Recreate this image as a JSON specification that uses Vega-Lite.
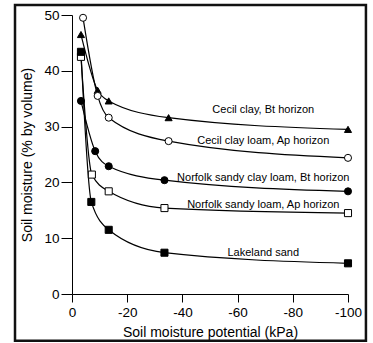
{
  "$schema": "https://vega.github.io/schema/vega-lite/v6.json",
  "width": 276,
  "height": 279,
  "autosize": "none",
  "padding": {"left": 72, "top": 15, "right": 25, "bottom": 49},
  "background": "white",
  "config": {
    "view": {"stroke": null},
    "font": "Liberation Sans",
    "axis": {"labelFont": "Liberation Sans", "titleFont": "Liberation Sans", "labelColor": "black", "titleColor": "black", "domainColor": "black", "tickColor": "black", "titleFontWeight": "normal", "labelFontSize": 13.5, "titleFontSize": 14, "grid": false, "domainWidth": 1, "tickWidth": 1}
  },
  "datasets": {
    "soil": [
      {"soil": "Cecil clay, Bt horizon", "kPa": -3.25, "moisture": 46.5},
      {"soil": "Cecil clay, Bt horizon", "kPa": -9.3, "moisture": 36.5},
      {"soil": "Cecil clay, Bt horizon", "kPa": -13.3, "moisture": 34.6},
      {"soil": "Cecil clay, Bt horizon", "kPa": -35, "moisture": 31.6},
      {"soil": "Cecil clay, Bt horizon", "kPa": -100, "moisture": 29.5},
      {"soil": "Cecil clay loam, Ap horizon", "kPa": -4, "moisture": 49.5},
      {"soil": "Cecil clay loam, Ap horizon", "kPa": -9.3, "moisture": 35.5},
      {"soil": "Cecil clay loam, Ap horizon", "kPa": -13.3, "moisture": 31.6},
      {"soil": "Cecil clay loam, Ap horizon", "kPa": -35, "moisture": 27.4},
      {"soil": "Cecil clay loam, Ap horizon", "kPa": -100, "moisture": 24.4},
      {"soil": "Norfolk sandy clay loam, Bt horizon", "kPa": -3.25, "moisture": 34.6},
      {"soil": "Norfolk sandy clay loam, Bt horizon", "kPa": -8.4, "moisture": 25.6},
      {"soil": "Norfolk sandy clay loam, Bt horizon", "kPa": -13.3, "moisture": 22.9},
      {"soil": "Norfolk sandy clay loam, Bt horizon", "kPa": -33.5, "moisture": 20.4},
      {"soil": "Norfolk sandy clay loam, Bt horizon", "kPa": -100, "moisture": 18.4},
      {"soil": "Norfolk sandy loam, Ap horizon", "kPa": -3.25, "moisture": 42.5},
      {"soil": "Norfolk sandy loam, Ap horizon", "kPa": -7.2, "moisture": 21.4},
      {"soil": "Norfolk sandy loam, Ap horizon", "kPa": -13.3, "moisture": 18.4},
      {"soil": "Norfolk sandy loam, Ap horizon", "kPa": -33.5, "moisture": 15.4},
      {"soil": "Norfolk sandy loam, Ap horizon", "kPa": -100, "moisture": 14.5},
      {"soil": "Lakeland sand", "kPa": -3.25, "moisture": 43.4},
      {"soil": "Lakeland sand", "kPa": -7, "moisture": 16.5},
      {"soil": "Lakeland sand", "kPa": -13.3, "moisture": 11.5},
      {"soil": "Lakeland sand", "kPa": -33.5, "moisture": 7.4},
      {"soil": "Lakeland sand", "kPa": -100, "moisture": 5.5}
    ],
    "labels": [
      {"soil": "Cecil clay, Bt horizon", "kPa": -69.3, "moisture": 32.9},
      {"soil": "Cecil clay loam, Ap horizon", "kPa": -69.3, "moisture": 27.4},
      {"soil": "Norfolk sandy clay loam, Bt horizon", "kPa": -69.3, "moisture": 20.8},
      {"soil": "Norfolk sandy loam, Ap horizon", "kPa": -69.3, "moisture": 16.0},
      {"soil": "Lakeland sand", "kPa": -69.3, "moisture": 7.4}
    ]
  },
  "layer": [
    {
      "data": {"name": "soil"},
      "mark": {"type": "line", "interpolate": "monotone", "color": "black", "strokeWidth": 1.2},
      "encoding": {
        "x": {"field": "kPa", "type": "quantitative", "title": "Soil moisture potential (kPa)", "scale": {"domain": [0, -100], "nice": false, "zero": false},
          "axis": {"values": [0, -10, -20, -30, -40, -50, -60, -70, -80, -90, -100], "labelExpr": "datum.value % 20 === 0 ? (datum.value === 0 ? '0' : '-' + abs(datum.value)) : ''", "tickSize": {"condition": {"test": "datum.value % 20 === 0", "value": 8}, "value": 4}, "labelPadding": 3, "titlePadding": 7, "labelFlush": false}},
        "y": {"field": "moisture", "type": "quantitative", "title": "Soil moisture (% by volume)", "scale": {"domain": [0, 50], "nice": false},
          "axis": {"values": [0, 5, 10, 15, 20, 25, 30, 35, 40, 45, 50], "labelExpr": "datum.value % 10 === 0 ? datum.label : ''", "tickSize": {"condition": {"test": "datum.value % 10 === 0", "value": 11}, "value": 4}, "labelPadding": 2, "titlePadding": 9, "labelFlush": false}},
        "detail": {"field": "soil"},
        "order": {"field": "kPa", "sort": "descending"}
      }
    },
    {
      "data": {"values": [{}]},
      "mark": {"type": "rect", "filled": false, "stroke": "#111", "strokeWidth": 2.5},
      "encoding": {
        "x": {"datum": 20.65, "type": "quantitative"},
        "x2": {"datum": -106.5},
        "y": {"datum": 51.8, "type": "quantitative"},
        "y2": {"datum": -8.4}
      }
    },
    {
      "data": {"name": "soil"},
      "mark": {"type": "point", "stroke": "black", "strokeWidth": 1, "opacity": 1, "size": 50},
      "encoding": {
        "x": {"field": "kPa", "type": "quantitative"},
        "y": {"field": "moisture", "type": "quantitative"},
        "shape": {"field": "soil", "type": "nominal", "legend": null,
          "scale": {"domain": ["Cecil clay, Bt horizon", "Cecil clay loam, Ap horizon", "Norfolk sandy clay loam, Bt horizon", "Norfolk sandy loam, Ap horizon", "Lakeland sand"], "range": ["triangle-up", "circle", "circle", "square", "square"]}},
        "fill": {"field": "soil", "type": "nominal", "legend": null,
          "scale": {"domain": ["Cecil clay, Bt horizon", "Cecil clay loam, Ap horizon", "Norfolk sandy clay loam, Bt horizon", "Norfolk sandy loam, Ap horizon", "Lakeland sand"], "range": ["black", "white", "black", "white", "black"]}}
      }
    },
    {
      "data": {"name": "labels"},
      "mark": {"type": "text", "fontSize": 11, "color": "black", "align": "center", "baseline": "middle", "font": "Liberation Sans"},
      "encoding": {
        "x": {"field": "kPa", "type": "quantitative"},
        "y": {"field": "moisture", "type": "quantitative"},
        "text": {"field": "soil"}
      }
    }
  ]
}
